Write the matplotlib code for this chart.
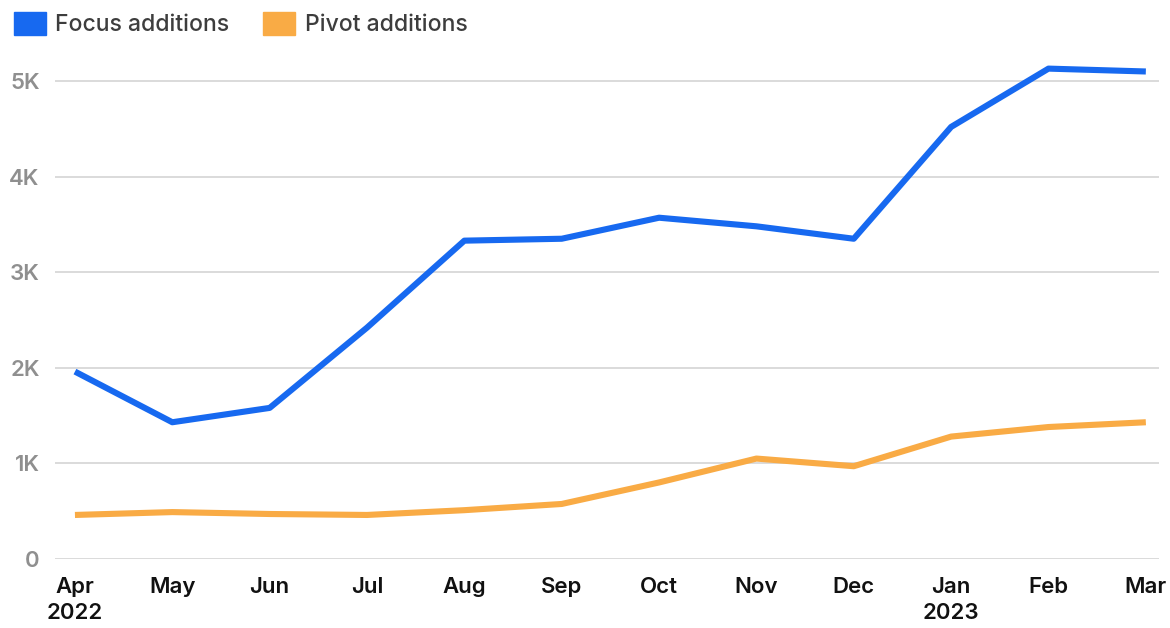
import numpy as np
import matplotlib.pyplot as plt
from matplotlib.patches import Patch

months = ["Apr\n2022", "May", "Jun", "Jul", "Aug", "Sep", "Oct", "Nov", "Dec", "Jan\n2023", "Feb", "Mar"]
focus = [1960, 1430, 1580, 2420, 3330, 3350, 3570, 3480, 3350, 4520, 5130, 5100]
pivot = [460, 490, 470, 460, 510, 575, 800, 1050, 970, 1280, 1380, 1430]

blue = "#1769f0"
orange = "#f9ab45"

plt.rcParams["font.family"] = ["Inter", "DejaVu Sans"]

fig = plt.figure(figsize=(11.7, 6.28), dpi=100)
ax = fig.add_axes([0.047, 0.110, 0.944, 0.799])

x = np.arange(len(months))
ax.plot(x, focus, color=blue, lw=4.4, solid_capstyle="butt", zorder=3)
ax.plot(x, pivot, color=orange, lw=4.4, solid_capstyle="butt", zorder=3)

ax.set_xlim(-0.205, 11.14)
ax.set_ylim(0, 5250)
ax.set_yticks([0, 1000, 2000, 3000, 4000, 5000])
ax.set_yticklabels(["0", "1K", "2K", "3K", "4K", "5K"])
ax.set_xticks(x)
ax.set_xticklabels(months)

ax.grid(axis="y", color="#d4d4d4", lw=1.2)
ax.set_axisbelow(True)
for s in ax.spines.values():
    s.set_visible(False)
ax.tick_params(axis="both", length=0)
ax.tick_params(axis="y", labelsize=16, labelcolor="#8f8f8f", pad=11)
ax.tick_params(axis="x", labelsize=16, labelcolor="#111111", pad=13)
for t in ax.get_yticklabels() + ax.get_xticklabels():
    t.set_fontweight("semibold")
for t in ax.get_xticklabels():
    t.set_linespacing(1.4)

handles = [Patch(color=blue, label="Focus additions"),
           Patch(color=orange, label="Pivot additions")]
fig.legend(handles=handles, loc="upper left", bbox_to_anchor=(-0.006, 1.014), ncol=2,
           frameon=False, prop={"size": 16.5, "weight": "medium"},
           handlelength=1.4, handleheight=1.2,
           handletextpad=0.4, columnspacing=1.5, labelcolor="#3d3d3d")

fig.savefig("out.png", dpi=100)
